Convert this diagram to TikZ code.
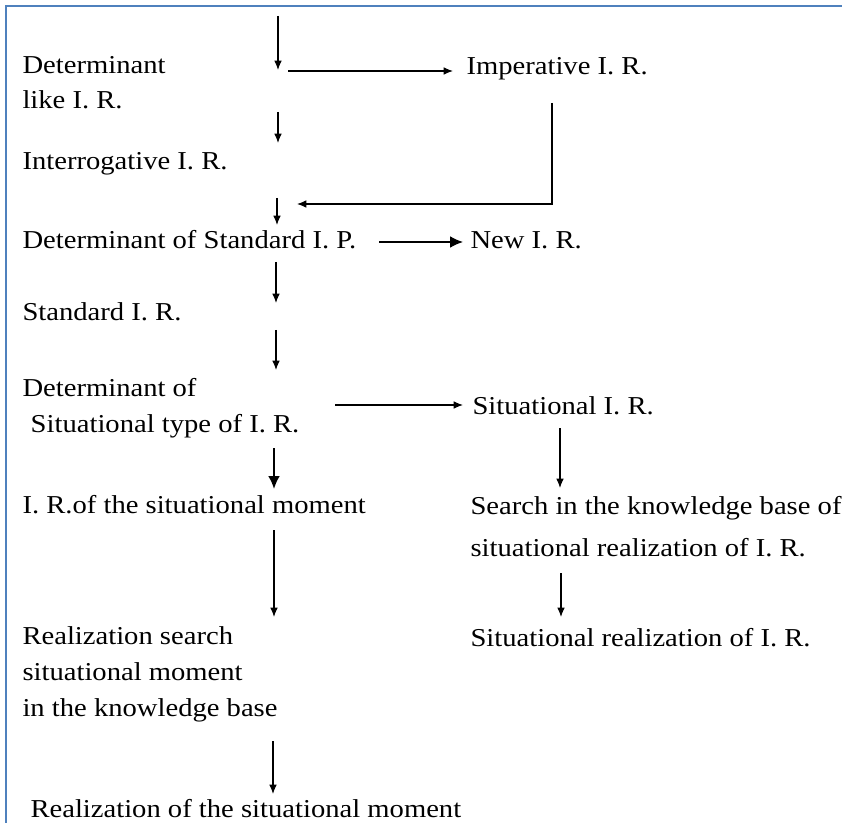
\documentclass[tikz,border=0pt]{standalone}
\usepackage{fontspec}
\setmainfont{Liberation Serif}[FakeStretch=1.11]
\usetikzlibrary{arrows.meta}
\definecolor{frameblue}{HTML}{4F81BD}
\begin{document}
\begin{tikzpicture}[x=0.03cm, y=-0.03cm, >={Latex[length=8pt,width=6.5pt]}, line width=0.9pt,
    every node/.style={font=\fontsize{22}{30.7}\selectfont, inner sep=0pt, anchor=base west, align=left},
    flow/.style={->},
    boldflow/.style={->, line width=1.6pt, >={Latex[length=11pt,width=10pt]}}]
  \useasboundingbox (0,0) rectangle (842,823);

  % 1. frame
  \draw[frameblue, line width=2pt] (842,6) -- (6,6) -- (6,823);

  % 2. left column (base = last line)
  \node (detlike) at (22,109) {Determinant\\like I. R.};
  \node (interrog) at (22,170) {Interrogative I. R.};
  \node (detstd) at (22,249) {Determinant of Standard I. P.};
  \node (stdir) at (22,321) {Standard I. R.};
  \node (detsit) at (22,432) {Determinant of\\\hspace*{7pt}Situational type of I. R.};
  \node (irmom) at (22,513) {I. R.of the situational moment};
  \node (realsearch) at (22,716) {Realization search\\situational moment\\in the knowledge base};
  \node (realmom) at (30,817) {Realization of the situational moment};

  % 3. right column
  \node (imper) at (466,75) {Imperative I. R.};
  \node (newir) at (470,249) {New I. R.};
  \node (sitir) at (472,414) {Situational I. R.};
  \node (kbsearch) at (470,556) {Search in the knowledge base of\\[5pt]situational realization of I. R.};
  \node (sitreal) at (470,646) {Situational realization of I. R.};

  % 4. arrow end points
  \coordinate (top) at (278,16);       \coordinate (fork) at (278,70);
  \coordinate (forkr) at (288,71);     \coordinate (imperin) at (453,71);
  \coordinate (likeout) at (278,112);  \coordinate (interin) at (278,143);
  \coordinate (imperout) at (552,103); \coordinate (turn) at (552,204);
  \coordinate (join) at (297,204);
  \coordinate (interout) at (277,198); \coordinate (detstdin) at (277,225);
  \coordinate (detstdr) at (379,242);  \coordinate (newin) at (463,242);
  \coordinate (detstdout) at (276,262);\coordinate (stdin) at (276,303);
  \coordinate (stdout) at (276,330);   \coordinate (detsitin) at (276,370);
  \coordinate (detsitr) at (335,405);  \coordinate (sitin) at (463,405);
  \coordinate (sitout) at (560,428);   \coordinate (kbin) at (560,488);
  \coordinate (detsitout) at (274,448);\coordinate (irmomin) at (274,489);
  \coordinate (kbout) at (561,573);    \coordinate (sitrealin) at (561,617);
  \coordinate (irmomout) at (274,530); \coordinate (realsearchin) at (274,617);
  \coordinate (realsearchout) at (273,741); \coordinate (realmomin) at (273,794);

  % 5. arrows
  \draw[flow] (top) -- (fork);
  \draw[flow] (forkr) -- (imperin);
  \draw[flow] (likeout) -- (interin);
  \draw[flow] (imperout) -- (turn) -- (join);
  \draw[flow] (interout) -- (detstdin);
  \draw[boldflow, line width=1.2pt] (detstdr) -- (newin);
  \draw[flow] (detstdout) -- (stdin);
  \draw[flow] (stdout) -- (detsitin);
  \draw[flow] (detsitr) -- (sitin);
  \draw[flow] (sitout) -- (kbin);
  \draw[boldflow] (detsitout) -- (irmomin);
  \draw[flow] (kbout) -- (sitrealin);
  \draw[flow] (irmomout) -- (realsearchin);
  \draw[flow] (realsearchout) -- (realmomin);
\end{tikzpicture}
\end{document}
